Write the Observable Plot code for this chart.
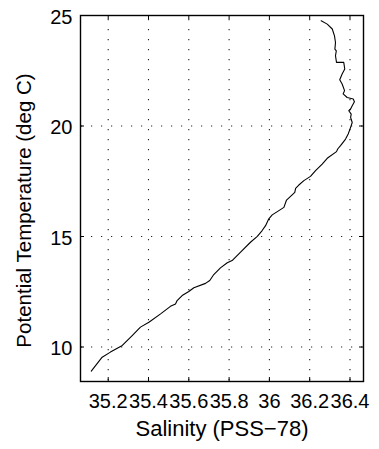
<!DOCTYPE html>
<html>
<head>
<meta charset="utf-8">
<script src="https://cdn.jsdelivr.net/npm/d3@7"></script>
<script src="https://cdn.jsdelivr.net/npm/@observablehq/plot@0.6"></script>
<style>
  html, body { margin: 0; padding: 0; background: #fff; }
</style>
</head>
<body>
<div id="chart"></div>
<script>
const salinity = [36.257, 36.287, 36.312, 36.323, 36.328, 36.325, 36.332, 36.328, 36.333, 36.369,
  36.374, 36.361, 36.349, 36.361, 36.373, 36.366, 36.386, 36.416, 36.422, 36.411,
  36.403, 36.394, 36.406, 36.403, 36.411, 36.403, 36.391, 36.378, 36.353, 36.339,
  36.333, 36.287, 36.262, 36.229, 36.204, 36.171, 36.146, 36.130, 36.126, 36.105,
  36.085, 36.072, 36.047, 36.014, 35.997, 35.981, 35.964, 35.940, 35.906, 35.857,
  35.815, 35.791, 35.757, 35.724, 35.704, 35.683, 35.625, 35.600, 35.567, 35.542,
  35.534, 35.509, 35.460, 35.402, 35.360, 35.319, 35.270, 35.211, 35.170, 35.116];
const temperature = [24.76, 24.61, 24.39, 24.08, 23.78, 23.48, 23.40, 23.18, 22.88, 22.88,
  22.58, 22.35, 22.09, 21.90, 21.60, 21.45, 21.29, 21.22, 21.10, 20.92,
  20.77, 20.69, 20.54, 20.39, 20.16, 19.94, 19.64, 19.41, 19.11, 18.96,
  18.84, 18.54, 18.28, 17.98, 17.72, 17.53, 17.33, 17.18, 17.00, 16.82,
  16.65, 16.32, 16.17, 15.98, 15.80, 15.49, 15.27, 15.01, 14.74, 14.29,
  13.91, 13.81, 13.58, 13.28, 13.01, 12.88, 12.68, 12.51, 12.33, 12.10,
  11.95, 11.84, 11.50, 11.12, 10.90, 10.52, 10.07, 9.77, 9.54, 8.91];
const xTicks = [35.2, 35.4, 35.6, 35.8, 36, 36.2, 36.4];
const xTickLabels = ["35.2", "35.4", "35.6", "35.8", "36", "36.2", "36.4"];
const yTicks = [10, 15, 20, 25];
const yTickLabels = ["10", "15", "20", "25"];
const xLabel = "Salinity (PSS\u221278)";
const yLabel = "Potential Temperature (deg C)";
const xDomain = [35.0625, 36.467];
const yDomain = [8.44, 25];

const data = salinity.map((s, i) => ({S: s, T: temperature[i]}));

const W = 379, H = 449;
const mL = 80, mR = 16, mT = 15, mB = 68;
const frameW = W - mL - mR, frameH = H - mT - mB;
const tickLen = 4;
const font = "'Liberation Sans', Arial, Helvetica, sans-serif";

const chart = Plot.plot({
  width: W,
  height: H,
  marginLeft: mL,
  marginRight: mR,
  marginTop: mT,
  marginBottom: mB,
  style: {fontFamily: font, fontSize: "20px", color: "#000", background: "#fff"},
  x: {domain: xDomain, axis: null},
  y: {domain: yDomain, axis: null},
  marks: [
    Plot.ruleX(xTicks, {x: d => d, stroke: "#222", strokeWidth: 1.1, strokeDasharray: "1.2,8.8", strokeDashoffset: 6}),
    Plot.ruleY(yTicks, {y: d => d, stroke: "#222", strokeWidth: 1.1, strokeDasharray: "1.2,8.8", strokeDashoffset: 9}),
    Plot.tickX(xTicks, {x: d => d, insetTop: frameH - tickLen, stroke: "#000"}),
    Plot.tickX(xTicks, {x: d => d, insetBottom: frameH - tickLen, stroke: "#000"}),
    Plot.tickY(yTicks, {y: d => d, insetRight: frameW - tickLen, stroke: "#000"}),
    Plot.tickY(yTicks, {y: d => d, insetLeft: frameW - tickLen, stroke: "#000"}),
    Plot.line(data, {x: "S", y: "T", stroke: "#000", strokeWidth: 1.1}),
    Plot.frame({stroke: "#000", strokeWidth: 1.4}),
    Plot.axisX({ticks: xTicks, tickFormat: (d) => xTickLabels[xTicks.indexOf(d)], tickSize: 0, tickPadding: 12.5, fontSize: 20, label: null}),
    Plot.axisY({ticks: yTicks, tickFormat: (d) => yTickLabels[yTicks.indexOf(d)], tickSize: 0, tickPadding: 8, fontSize: 20, dy: 2, label: null}),
    Plot.text([xLabel], {text: d => d, frameAnchor: "bottom", dy: 47, fontSize: 22, textAnchor: "middle", lineAnchor: "middle", fill: "#000"}),
    Plot.text([yLabel], {text: d => d, frameAnchor: "left", rotate: -90, dx: -56, dy: 12, fontSize: 20.5, textAnchor: "middle", lineAnchor: "middle", fill: "#000"})
  ]
});
document.getElementById("chart").appendChild(chart);
</script>
</body>
</html>
